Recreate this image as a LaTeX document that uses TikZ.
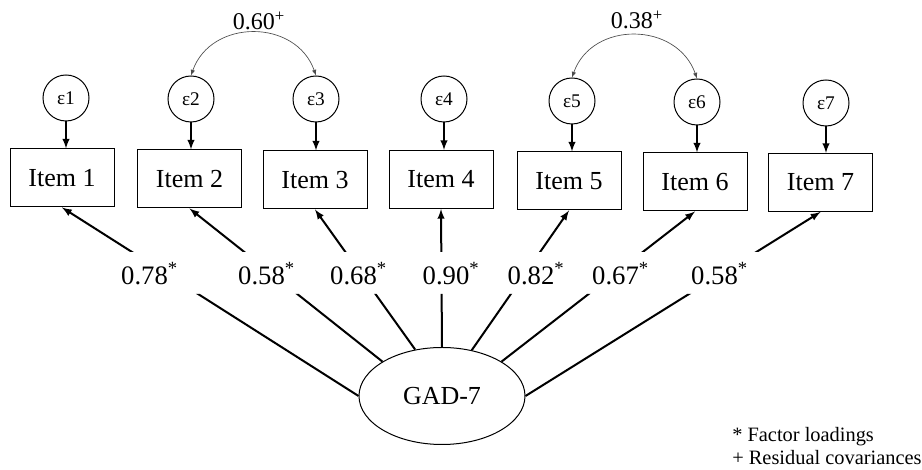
\documentclass[tikz,border=0pt]{standalone}
\usepackage{fontspec}
\setmainfont{Liberation Serif}
\usetikzlibrary{arrows, shapes}

\begin{document}
\begin{tikzpicture}[x=0.75pt, y=0.75pt, >=latex,
    item/.style={draw, line width=0.75pt, minimum width=78pt, minimum height=43.5pt, inner sep=0pt, font=\fontsize{19.5}{22}\selectfont},
    err/.style={draw, circle, line width=0.75pt, minimum size=34.5pt, inner sep=0pt, font=\fontsize{14.5}{16}\selectfont},
    latent/.style={draw, ellipse, line width=0.75pt, minimum width=124.5pt, minimum height=72.75pt, inner sep=0pt, font=\fontsize{19.5}{22}\selectfont},
    load/.style={->, line width=1.5pt},
    resid/.style={->, line width=1.5pt},
    cov/.style={<->, line width=0.5pt, color=black!70},
    lbl/.style={inner sep=0pt, font=\fontsize{20}{22}\selectfont},
    covlbl/.style={inner sep=0pt, font=\fontsize{18}{20}\selectfont},
    note/.style={anchor=base west, inner sep=0pt, font=\fontsize{15.3}{17}\selectfont}]
  % Bildbereich
  \useasboundingbox (0,0) rectangle (922,470);
  % Items
  \foreach \i/\x/\y in {1/62/292, 2/189.5/291, 3/315/290, 4/441/290.5, 5/569/289, 6/695/288, 7/820.5/287.5}
    \node[item] (item\i) at (\x,\y) {Item \i};
  % Fehlerterme
  \foreach \i/\x/\y in {1/66/372, 2/191/371, 3/316/371, 4/444/371, 5/572/369, 6/697/368, 7/826/367}
    \node[err] (e\i) at (\x,\y) {ε\i};
  \foreach \i in {1,...,7}
    \draw[resid] (e\i) -- (e\i |- item\i.north);
  % Faktor
  \node[latent] (gad) at (442,74) {GAD-7};
  % Ladungen (mit Luecke fuer die Zahlen)
  \begin{scope}
    \clip (0,0) rectangle (922,176) (0,218) rectangle (922,470);
    \foreach \i/\a in {1/180, 2/150, 3/120, 4/90, 5/57, 6/30, 7/0}
      \draw[load] (gad.\a) -- (item\i.south);
  \end{scope}
  \foreach \i/\x/\v in {1/149.5/0.78, 2/266.5/0.58, 3/358.5/0.68, 4/451/0.90, 5/536/0.82, 6/620.5/0.67, 7/719.5/0.58}
    \node[lbl] (l\i) at (\x,196) {\v\textsuperscript{*}};
  % Residualkovarianzen
  \draw[cov] (e2.north) .. controls +(20,57) and +(-20,57) .. (e3.north);
  \draw[cov] (e5.north) .. controls +(20,57) and +(-20,57) .. (e6.north);
  \node[covlbl] (c23) at (259,449) {0.60\textsuperscript{+}};
  \node[covlbl] (c56) at (637,450) {0.38\textsuperscript{+}};
  % Legende
  \node[note] (n1) at (732,28) {* Factor loadings};
  \node[note] (n2) at (732,5) {+ Residual covariances};
\end{tikzpicture}
\end{document}
